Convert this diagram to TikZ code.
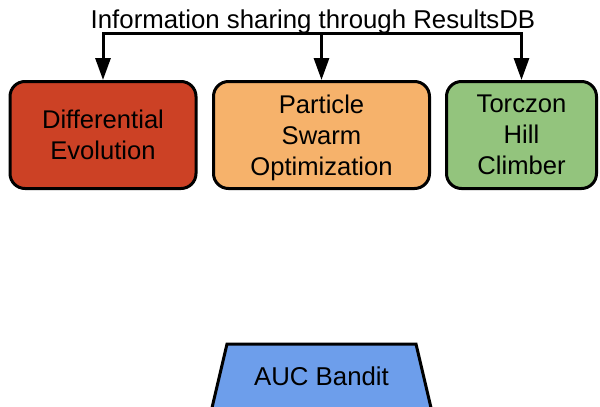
\documentclass[tikz,border=0pt]{standalone}
\usepackage{fontspec}
\setmainfont{Liberation Sans}
\usetikzlibrary{arrows.meta}
\definecolor{deRed}{HTML}{CC4125}
\definecolor{psoOrange}{HTML}{F6B26B}
\definecolor{hillGreen}{HTML}{93C47D}
\definecolor{aucBlue}{HTML}{6D9EEB}
\begin{document}
\begin{tikzpicture}[x=1pt,y=-1pt,
  algbox/.style={draw=black, line width=3pt, rounded corners=15pt, align=center,
    minimum height=107pt, inner sep=0pt, text depth=0pt,
    font=\fontsize{25.6}{31}\selectfont},
  bus/.style={draw=black, line width=3pt},
  tip/.style={-{Triangle[length=22pt,width=15pt]}},
  bothtips/.style={{Triangle[length=22pt,width=15pt]}-{Triangle[length=22pt,width=15pt]}},
  lbl/.style={font=\fontsize{25.8}{31}\selectfont, inner sep=0pt}]
\useasboundingbox (0,0) rectangle (600,407);
\node[algbox, fill=deRed, minimum width=186pt] (de) at (103,135) {Differential\\Evolution};
\node[algbox, fill=psoOrange, minimum width=216pt] (pso) at (321.5,135) {Particle\\Swarm\\Optimization};
\node[algbox, fill=hillGreen, minimum width=150pt] (hc) at (521.5,135) {Torczon\\Hill\\Climber};
\node[lbl, anchor=base] (title) at (313,28) {Information sharing through ResultsDB};
\coordinate (busmid) at (321.5,33);
\draw[bus, bothtips] (de.north) |- (busmid) -| (hc.north);
\draw[bus, tip] (busmid) -- (pso.north);
\fill[aucBlue, draw=black, line width=3pt] (227,344) -- (416,344) -- (432,412) -- (211,412) -- cycle;
\node[lbl, anchor=base] (auc) at (321.5,385) {AUC Bandit};
\end{tikzpicture}
\end{document}
